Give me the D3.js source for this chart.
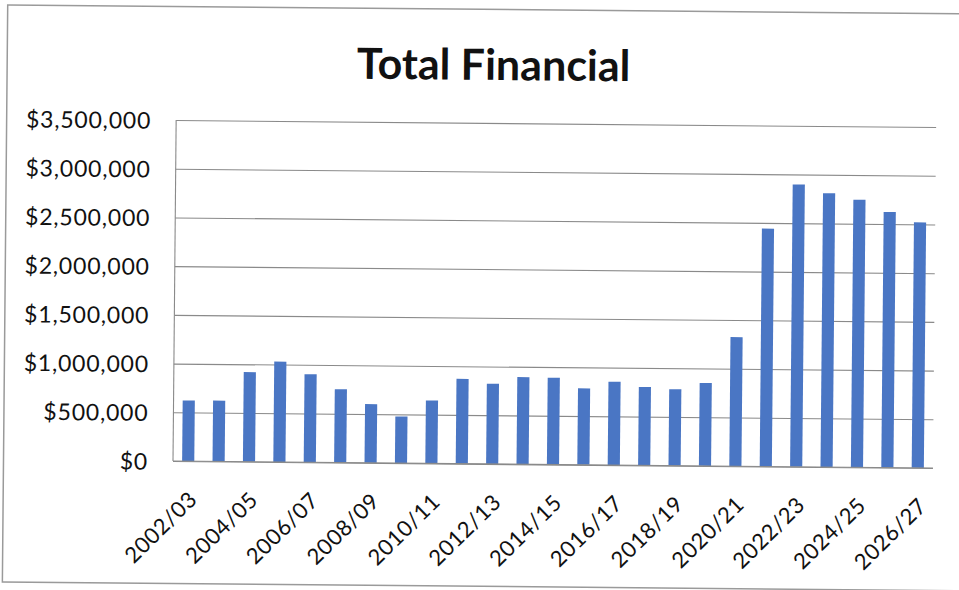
<!DOCTYPE html>
<html>
<head>
<meta charset="utf-8">
<script src="https://cdn.jsdelivr.net/npm/d3@7/dist/d3.min.js"></script>
<style>
  html, body { margin: 0; padding: 0; background: #fff; }
  svg { display: block; }
  .ytick text { font-family: Lato, "Open Sans", sans-serif; font-size: 23px; fill: #111; letter-spacing: 0.8px; }
  .xtick text { font-family: Lato, "Open Sans", sans-serif; font-size: 22px; fill: #111; letter-spacing: 0.6px; }
</style>
</head>
<body>
<script>
// Fiscal years on the category axis
const categories = [
  "2002/03", "2003/04", "2004/05", "2005/06", "2006/07", "2007/08", "2008/09",
  "2009/10", "2010/11", "2011/12", "2012/13", "2013/14", "2014/15", "2015/16",
  "2016/17", "2017/18", "2018/19", "2019/20", "2020/21", "2021/22", "2022/23",
  "2023/24", "2024/25", "2025/26", "2026/27"
];

// Total financial amount per year (dollars)
const totals = [
  622000, 624000, 920000, 1030000, 904000, 752000, 603000,
  479000, 645000, 870000, 823000, 894000, 890000, 784000,
  855000, 805000, 784000, 851000, 1325000, 2442000, 2897000,
  2810000, 2747000, 2623000, 2520000
];

// Labelled years (every second category)
const xTickLabels = [
  "2002/03", "2004/05", "2006/07", "2008/09", "2010/11", "2012/13", "2014/15",
  "2016/17", "2018/19", "2020/21", "2022/23", "2024/25", "2026/27"
];

// Value axis ticks
const yTicks = [0, 500000, 1000000, 1500000, 2000000, 2500000, 3000000, 3500000];

const chartTitle = "Total Financial";

const W = 959, H = 590;
const plot = { left: 173, right: 933, top: 120, bottom: 461 };

const svg = d3.select("body").append("svg")
  .attr("width", W).attr("height", H);

// the whole sheet sits at a slight clockwise tilt
const sheet = svg.append("g")
  .attr("transform", `rotate(0.53, ${plot.left}, ${plot.bottom})`);

// outer chart frame
sheet.append("rect")
  .attr("x", 3.5).attr("y", 6.5)
  .attr("width", 1000).attr("height", 577)
  .attr("fill", "none")
  .attr("stroke", "#9a9a9a")
  .attr("stroke-width", 1.5);

const x = d3.scaleBand()
  .domain(categories)
  .range([plot.left, plot.right])
  .paddingInner(0.6)
  .paddingOuter(0.3);

const y = d3.scaleLinear()
  .domain([0, 3500000])
  .range([plot.bottom, plot.top]);

const fmt = v => "$" + d3.format(",")(v);

// gridlines + value labels
const yAxis = d3.axisLeft(y)
  .tickValues(yTicks)
  .tickFormat(fmt)
  .tickSize(-(plot.right - plot.left))
  .tickPadding(25);

const gy = sheet.append("g")
  .attr("class", "ytick")
  .attr("transform", `translate(${plot.left},0)`)
  .call(yAxis);
gy.select(".domain").remove();
gy.selectAll(".tick line").attr("stroke", "#8a8a8a").attr("stroke-width", 1.1);
gy.selectAll(".tick text").attr("dy", "0.36em");

// left edge of the plot area
sheet.append("line")
  .attr("x1", plot.left).attr("x2", plot.left)
  .attr("y1", plot.top).attr("y2", plot.bottom)
  .attr("stroke", "#8a8a8a").attr("stroke-width", 1.1);

// bars
sheet.append("g")
  .selectAll("rect")
  .data(categories.map((c, i) => ({ c, v: totals[i] })))
  .join("rect")
  .attr("x", d => x(d.c))
  .attr("y", d => y(d.v))
  .attr("width", x.bandwidth())
  .attr("height", d => y(0) - y(d.v))
  .attr("fill", "#4a76c4");

// category axis
const xAxis = d3.axisBottom(x)
  .tickValues(xTickLabels)
  .tickSize(0)
  .tickPadding(0);

const gx = sheet.append("g")
  .attr("class", "xtick")
  .attr("transform", `translate(0,${plot.bottom})`)
  .call(xAxis);
gx.select(".domain")
  .attr("d", `M${plot.left},0H${plot.right}`)
  .attr("stroke", "#8a8a8a").attr("stroke-width", 1.1);
gx.selectAll(".tick text")
  .attr("text-anchor", "end")
  .attr("y", 0)
  .attr("dy", "0.36em")
  .attr("transform", "translate(5,34) rotate(-45)");

// title
sheet.append("text")
  .attr("x", 490)
  .attr("y", 77)
  .attr("text-anchor", "middle")
  .attr("font-family", "Lato, 'Open Sans', sans-serif")
  .attr("font-weight", "bold")
  .attr("font-size", 43)
  .attr("fill", "#111")
  .text(chartTitle);
</script>
</body>
</html>
